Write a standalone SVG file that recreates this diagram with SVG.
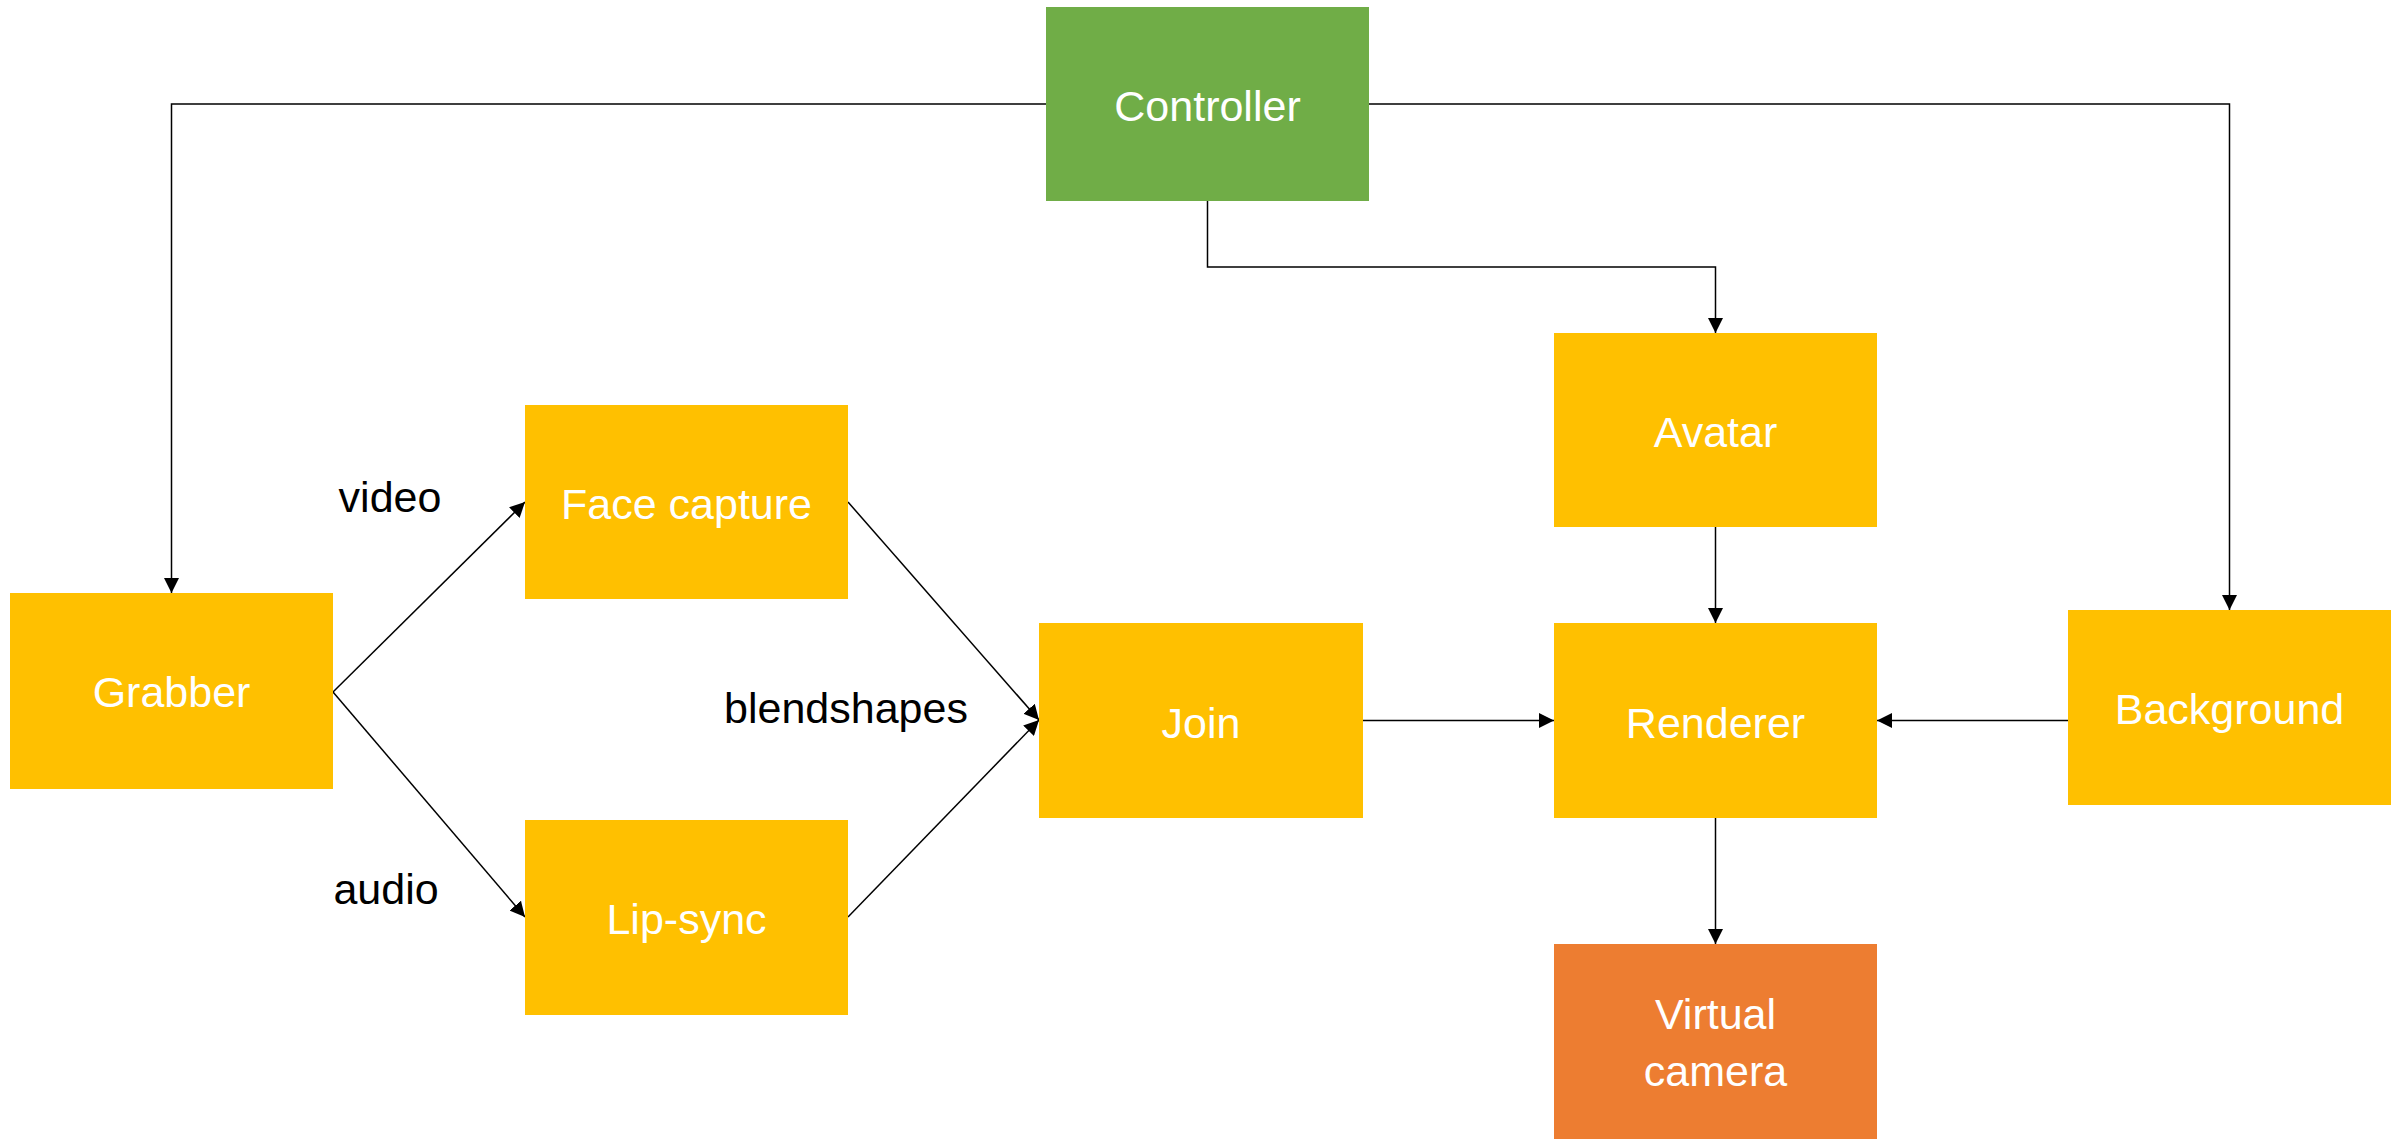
<svg xmlns="http://www.w3.org/2000/svg" width="2407" height="1139" viewBox="0 0 2407 1139">
<style>
.g{fill:#70AD47}.y{fill:#FFC000}.o{fill:#ED7D31}
.t{font-family:"Liberation Sans",Arial,sans-serif;font-size:43px;fill:#FFFFFF;text-anchor:middle}
.l{font-family:"Liberation Sans",Arial,sans-serif;font-size:43px;fill:#000000;text-anchor:middle}
.c{fill:none;stroke:#000000;stroke-width:1.5;marker-end:url(#ah)}
</style>
<defs>
<marker id="ah" markerUnits="userSpaceOnUse" markerWidth="15" markerHeight="15" refX="15" refY="7.5" orient="auto" viewBox="0 0 15 15">
<path d="M0,0 L15,7.5 L0,15 z" fill="#000000"/>
</marker>
</defs>
<rect width="2407" height="1139" fill="#FFFFFF"/>
<g id="connectors">
<path class="c" d="M1046,104 H171.5 V593"/>
<path class="c" d="M1369,104 H2229.5 V610"/>
<path class="c" d="M1207.5,201 V267 H1715.5 V333"/>
<path class="c" d="M1715.5,527 V623"/>
<path class="c" d="M1715.5,818 V944"/>
<path class="c" d="M1363,720.5 H1554"/>
<path class="c" d="M2068,720.5 H1877"/>
<path class="c" d="M333,692 L525,502"/>
<path class="c" d="M333,692 L525,917"/>
<path class="c" d="M848,502 L1039,720"/>
<path class="c" d="M848,917 L1039,720"/>
</g>
<g id="controller"><rect class="g" x="1046" y="7" width="323" height="194"/><text class="t" x="1207.5" y="121">Controller</text></g>
<g id="avatar"><rect class="y" x="1554" y="333" width="323" height="194"/><text class="t" x="1715.5" y="447">Avatar</text></g>
<g id="face-capture"><rect class="y" x="525" y="405" width="323" height="194"/><text class="t" x="686.5" y="519">Face capture</text></g>
<g id="grabber"><rect class="y" x="10" y="593" width="323" height="196"/><text class="t" x="171.5" y="707">Grabber</text></g>
<g id="join"><rect class="y" x="1039" y="623" width="324" height="195"/><text class="t" x="1201" y="738">Join</text></g>
<g id="renderer"><rect class="y" x="1554" y="623" width="323" height="195"/><text class="t" x="1715.5" y="738">Renderer</text></g>
<g id="background"><rect class="y" x="2068" y="610" width="323" height="195"/><text class="t" x="2229.5" y="724">Background</text></g>
<g id="lip-sync"><rect class="y" x="525" y="820" width="323" height="195"/><text class="t" x="686.5" y="934">Lip-sync</text></g>
<g id="virtual-camera"><rect class="o" x="1554" y="944" width="323" height="195"/><text class="t" x="1715.5" y="1029">Virtual</text><text class="t" x="1715.5" y="1086">camera</text></g>
<g id="labels">
<text class="l" x="390" y="512">video</text>
<text class="l" x="386" y="904">audio</text>
<text class="l" x="846" y="723">blendshapes</text>
</g>
</svg>
